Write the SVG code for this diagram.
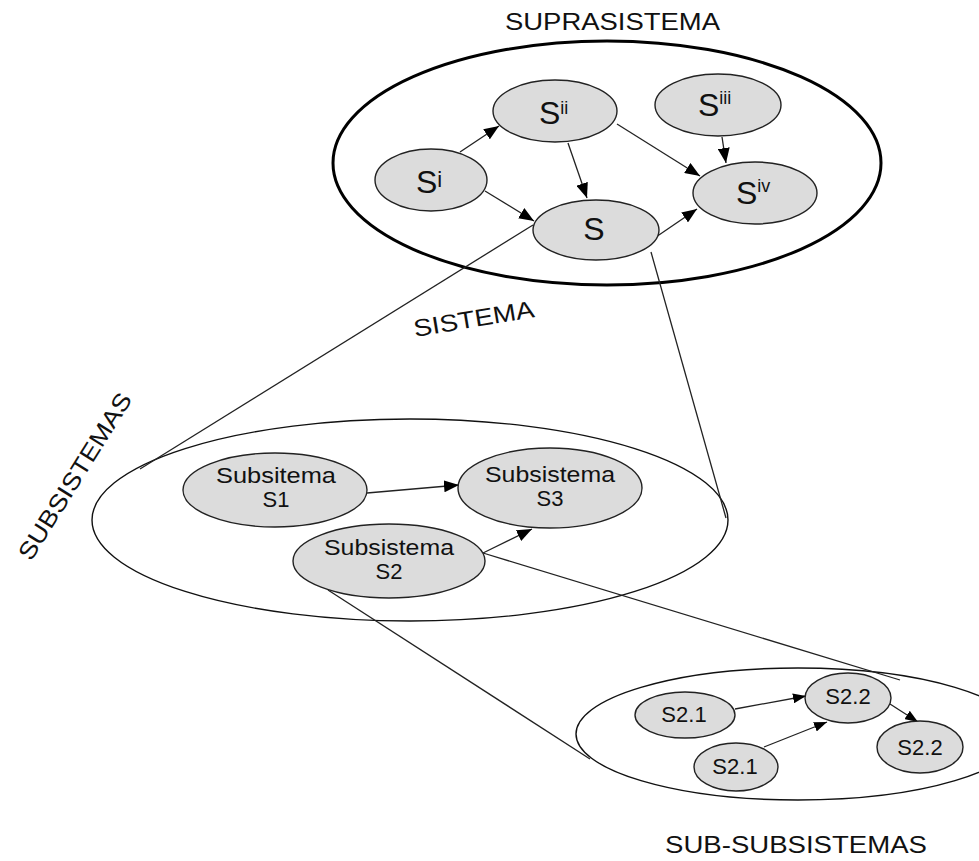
<svg xmlns="http://www.w3.org/2000/svg" width="979" height="861" viewBox="0 0 979 861">
  <defs>
    <marker id="ah" markerUnits="userSpaceOnUse" markerWidth="16" markerHeight="12" refX="15" refY="6" orient="auto">
      <path d="M0,0 L15,6 L0,12 z" fill="#000"/>
    </marker>
    <marker id="ahs" markerUnits="userSpaceOnUse" markerWidth="14" markerHeight="10" refX="13" refY="5" orient="auto">
      <path d="M0,0 L13,5 L0,10 z" fill="#000"/>
    </marker>
  </defs>
  <style>
    .frame { fill: none; stroke: #111; stroke-width: 1.4; }
    .frame-thick { fill: none; stroke: #000; stroke-width: 3; }
    .node { fill: #dcdcdc; stroke: #222; stroke-width: 1.4; }
    .lbl { font-family: "Liberation Sans", Arial, sans-serif; fill: #111; }
    .big { font-size: 32px; }
    .sup { font-size: 18px; }
    .mid { font-size: 22px; text-anchor: middle; }
    .small { font-size: 22px; text-anchor: middle; }
    .caption { font-size: 24px; }
    .link { fill: none; stroke: #222; stroke-width: 1.3; }
    .arrow { fill: none; stroke: #222; stroke-width: 1.3; marker-end: url(#ah); }
    .arrow-s { fill: none; stroke: #222; stroke-width: 1.3; marker-end: url(#ahs); }
  </style>
  <rect width="979" height="861" fill="#fff"/>

  <!-- enclosing regions -->
  <g id="suprasistema">
    <ellipse class="frame-thick" cx="607" cy="163" rx="274" ry="122"/>
    <text class="lbl caption" x="505" y="30" textLength="215" lengthAdjust="spacingAndGlyphs">SUPRASISTEMA</text>
  </g>
  <g id="subsistemas">
    <ellipse class="frame" cx="410" cy="520" rx="318" ry="101"/>
    <text class="lbl caption" x="0" y="0" transform="translate(31,562) rotate(-58)" textLength="192" lengthAdjust="spacingAndGlyphs">SUBSISTEMAS</text>
  </g>
  <g id="sub-subsistemas">
    <ellipse class="frame" cx="798" cy="734" rx="222" ry="66"/>
    <text class="lbl caption" x="665" y="853" textLength="262" lengthAdjust="spacingAndGlyphs">SUB-SUBSISTEMAS</text>
  </g>
  <g id="sistema-label">
    <text class="lbl caption" x="0" y="0" transform="translate(415,337) rotate(-9.5)" textLength="122" lengthAdjust="spacingAndGlyphs">SISTEMA</text>
  </g>

  <!-- connectors -->
  <g id="connectors">
    <!-- zoom-out projection lines -->
    <line class="link" x1="533" y1="225" x2="140" y2="469"/>
    <line class="link" x1="651" y1="252" x2="726" y2="518"/>
    <line class="link" x1="328" y1="590" x2="590" y2="759"/>
    <line class="link" x1="483" y1="553" x2="900" y2="680"/>

    <!-- suprasistema -->
    <line class="arrow" x1="460" y1="152" x2="499" y2="126"/>
    <line class="arrow" x1="485" y1="191" x2="534" y2="221"/>
    <line class="arrow" x1="568" y1="143" x2="587" y2="198"/>
    <line class="arrow" x1="617" y1="124" x2="700" y2="176"/>
    <line class="arrow" x1="722" y1="137" x2="726" y2="163"/>
    <line class="arrow" x1="656" y1="237" x2="697" y2="209"/>

    <!-- subsistemas -->
    <line class="arrow" x1="367" y1="493" x2="459" y2="485"/>
    <line class="arrow" x1="483" y1="553" x2="532" y2="529"/>

    <!-- sub-subsistemas -->
    <line class="arrow-s" x1="735" y1="709" x2="806" y2="696"/>
    <line class="arrow-s" x1="764" y1="747" x2="827" y2="722"/>
    <line class="arrow-s" x1="890" y1="704" x2="918" y2="722"/>
  </g>

  <!-- suprasistema nodes -->
  <g id="node-si">
    <ellipse class="node" cx="431" cy="180" rx="56" ry="31"/>
    <text class="lbl big" x="416" y="193">S<tspan font-size="22" dy="-6">i</tspan></text>
  </g>
  <g id="node-sii">
    <ellipse class="node" cx="555" cy="111" rx="62" ry="31"/>
    <text class="lbl big" x="539" y="124">S<tspan class="sup" dy="-10">ii</tspan></text>
  </g>
  <g id="node-siii">
    <ellipse class="node" cx="718" cy="105" rx="63" ry="31"/>
    <text class="lbl big" x="698" y="116">S<tspan class="sup" dy="-12">iii</tspan></text>
  </g>
  <g id="node-siv">
    <ellipse class="node" cx="755" cy="193" rx="62" ry="31"/>
    <text class="lbl big" x="736" y="204">S<tspan class="sup" dy="-12">iv</tspan></text>
  </g>
  <g id="node-s">
    <ellipse class="node" cx="596" cy="230" rx="63" ry="30"/>
    <text class="lbl big" x="594" y="240" text-anchor="middle">S</text>
  </g>

  <!-- subsistemas nodes (two-line labels) -->
  <g id="node-s1">
    <ellipse class="node" cx="275" cy="490" rx="92" ry="37"/>
    <text class="lbl mid"><tspan x="276" y="483" textLength="120" lengthAdjust="spacingAndGlyphs">Subsitema</tspan><tspan x="276" y="507">S1</tspan></text>
  </g>
  <g id="node-s3">
    <ellipse class="node" cx="550" cy="488" rx="92" ry="40"/>
    <text class="lbl mid"><tspan x="550" y="482" textLength="130" lengthAdjust="spacingAndGlyphs">Subsistema</tspan><tspan x="550" y="506">S3</tspan></text>
  </g>
  <g id="node-s2">
    <ellipse class="node" cx="389" cy="561" rx="96" ry="37"/>
    <text class="lbl mid"><tspan x="389" y="555" textLength="130" lengthAdjust="spacingAndGlyphs">Subsistema</tspan><tspan x="389" y="579">S2</tspan></text>
  </g>

  <!-- sub-subsistemas nodes -->
  <g id="node-s21a">
    <ellipse class="node" cx="685" cy="715" rx="50" ry="23"/>
    <text class="lbl small" x="684" y="722">S2.1</text>
  </g>
  <g id="node-s21b">
    <ellipse class="node" cx="736" cy="767" rx="42" ry="24"/>
    <text class="lbl small" x="735" y="774">S2.1</text>
  </g>
  <g id="node-s22a">
    <ellipse class="node" cx="848" cy="698" rx="43" ry="25"/>
    <text class="lbl small" x="848" y="704">S2.2</text>
  </g>
  <g id="node-s22b">
    <ellipse class="node" cx="920" cy="747" rx="43" ry="26"/>
    <text class="lbl small" x="920" y="755">S2.2</text>
  </g>
</svg>
